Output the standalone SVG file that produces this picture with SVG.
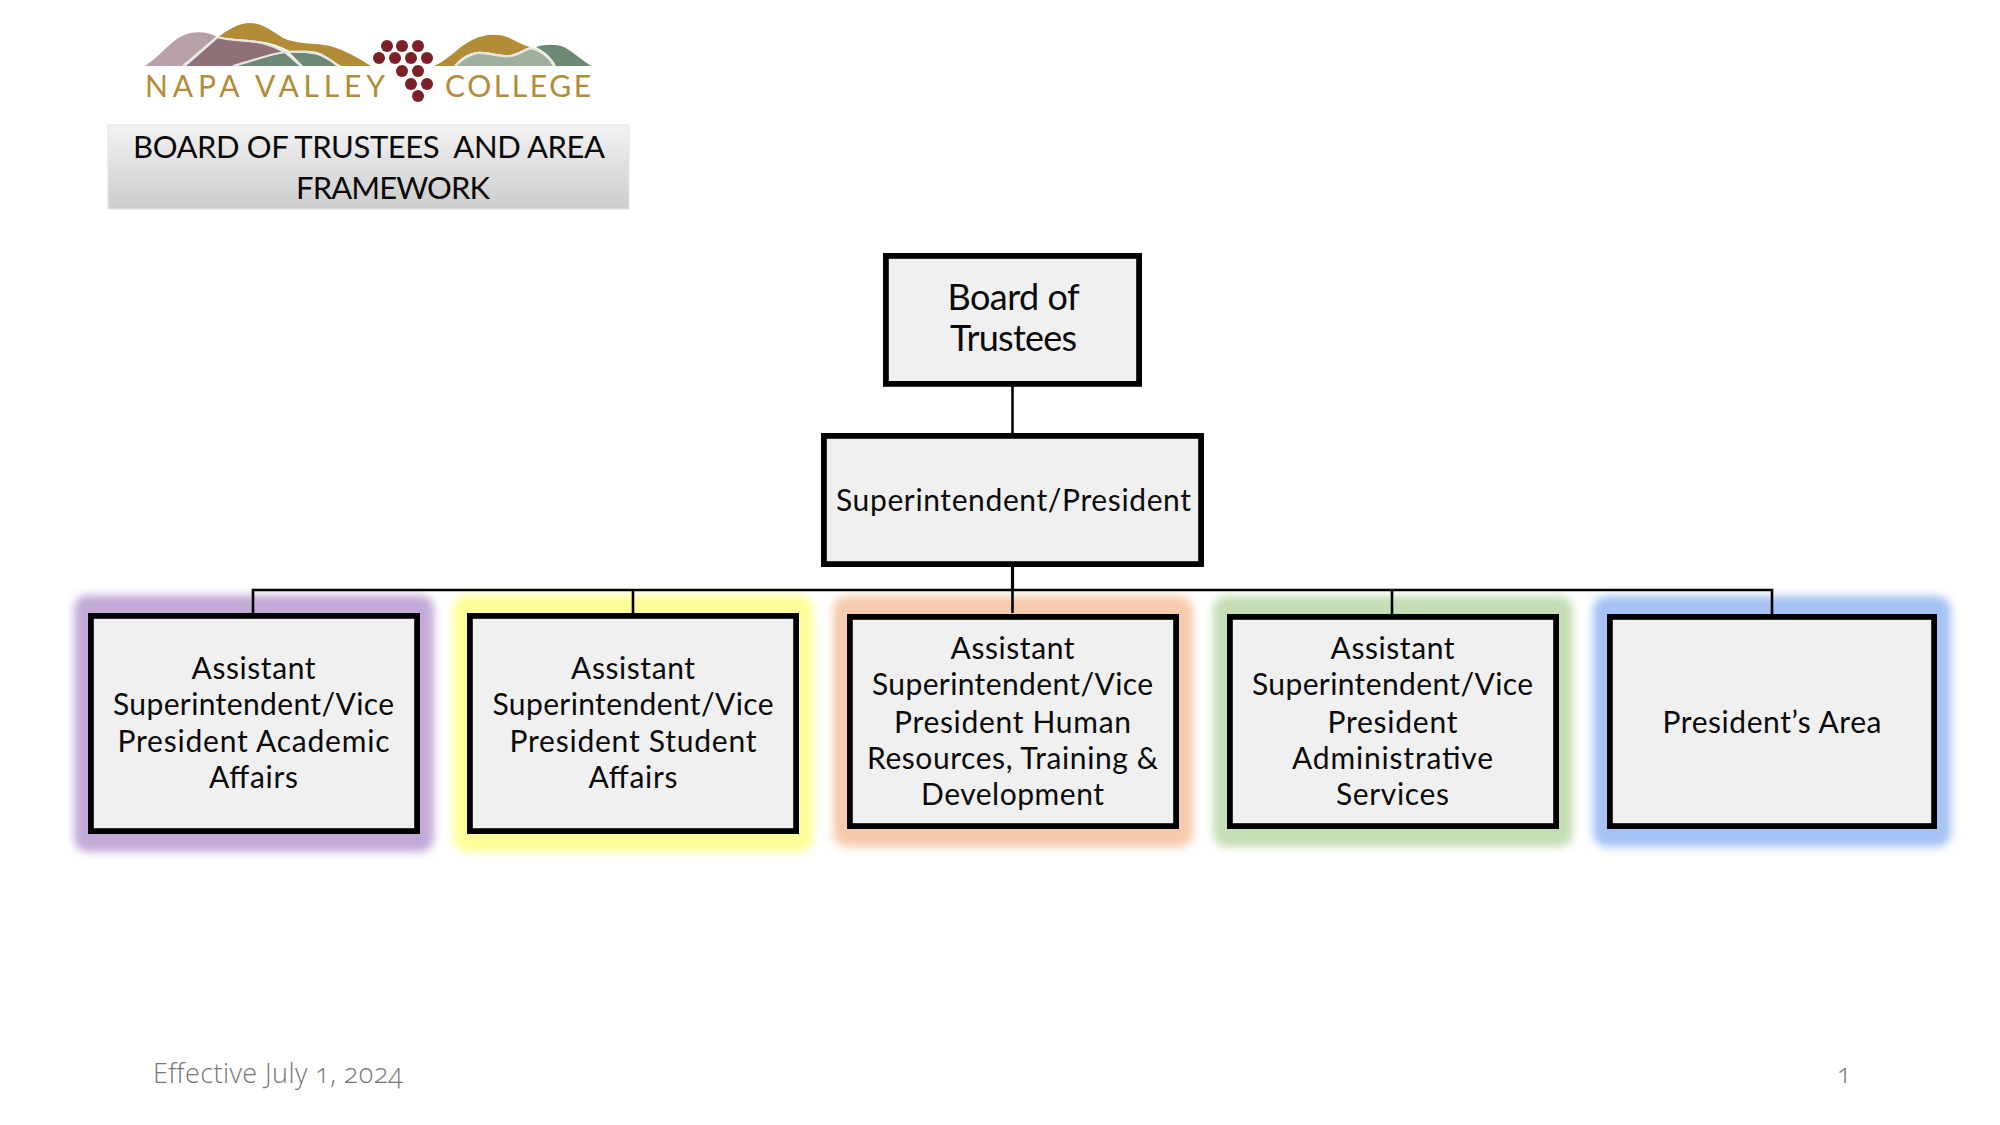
<svg xmlns="http://www.w3.org/2000/svg" width="2000" height="1125" viewBox="0 0 2000 1125">
<style>
text{font-family:"Lato","Noto Sans","Liberation Sans",sans-serif;fill:#0a0a0a;text-anchor:middle}
.n{font-size:30px}
.b{font-size:36px}
.t{font-size:31px}
.f{font-size:27px;fill:#777;font-family:"Open Sans","Lato",sans-serif;font-weight:300;font-feature-settings:"onum" 1;text-anchor:start}
.l{font-size:30px;fill:#b28c36;text-anchor:start}
.box{fill:#f0f0f0;stroke:#000;stroke-width:5.8}
.c{fill:none;stroke:#000;stroke-width:2.6}
.g{filter:url(#glow)}
.gr{fill:#7a2026}
.ln{fill:none;stroke:#e8e6e0;stroke-width:2.2}
</style>
<defs>
<filter id="glow" x="-15%" y="-15%" width="130%" height="130%"><feGaussianBlur stdDeviation="4.5"/></filter>
<linearGradient id="tg" x1="0" y1="0" x2="0" y2="1"><stop offset="0" stop-color="#f3f3f3"/><stop offset="1" stop-color="#cdcccd"/></linearGradient>
</defs>
<rect width="2000" height="1125" fill="#fff"/>
<g id="logo">
<path fill="#b8a0a8" d="M145 66C160 56 170 42 182 36C196 30 208 32 217 37L183 66Z"/>
<path fill="#8e7076" d="M186 66L218 38C232 41 240 40 257 43C270 45 276 48 285 52C268 54 252 60 233 66Z"/>
<path fill="#6d8976" d="M236 66C255 60 270 55 285 53L300 66Z"/>
<path fill="#6d8976" d="M290 53C300 52 310 53 318 55C325 58 332 62 338 66H303Z"/>
<path fill="#b28c36" d="M218 37C228 30 238 23 250 23C262 23 272 31 283 38C295 44 315 43 330 46C345 50 358 58 371 66H341C332 60 325 55 317 52C308 50 298 51 290 51C280 46 270 42 257 41C242 39 230 39 218 37Z"/>
<path fill="#b28c36" d="M434 66C448 60 458 47 472 40C482 35 495 33 507 37C515 40 522 45 530 47C522 50 518 53 510 55C500 56 488 51 477 52C468 53 460 58 455 66Z"/>
<path fill="#a0b09e" d="M457 66C462 60 469 56 477 54C488 53 500 58 510 57C518 56 524 51 531 49C540 51 548 57 553 66Z"/>
<path fill="#6d8976" d="M536 47C545 44 556 44 564 47C573 52 582 60 591 66H556C552 58 546 52 536 47Z"/>
<path class="ln" d="M183 66L217 37M233 66C255 60 270 54 285 52C296 51 308 52 317 53C326 56 333 62 338 66M285 52L301 66M218 37C232 41 245 40 257 42C270 44 276 48 285 52"/>
<path class="ln" d="M455 66C461 59 469 54 477 53C488 52 500 57 510 56C518 55 524 50 531 48C540 50 549 57 555 66"/>
<g class="gr"><circle cx="387" cy="46" r="6"/><circle cx="402" cy="46" r="6"/><circle cx="418" cy="46" r="6"/><circle cx="379" cy="58" r="6"/><circle cx="395" cy="58" r="6"/><circle cx="411" cy="58" r="6"/><circle cx="427" cy="58" r="6"/><circle cx="402" cy="71" r="6"/><circle cx="418" cy="71" r="6"/><circle cx="411" cy="84" r="6"/><circle cx="427" cy="84" r="6"/><circle cx="418" cy="96" r="6"/></g>
<text class="l" x="145" y="97" textLength="240" lengthAdjust="spacing">NAPA VALLEY</text>
<text class="l" x="445" y="97" textLength="146" lengthAdjust="spacing">COLLEGE</text>
</g>
<g id="title">
<rect x="108" y="125" width="521" height="84" fill="url(#tg)" stroke="#e4e4e4" stroke-width="1"/>
<text class="t" x="369" y="158" textLength="472" lengthAdjust="spacing" xml:space="preserve">BOARD OF TRUSTEES  AND AREA</text>
<text class="t" x="393" y="199" textLength="194" lengthAdjust="spacing">FRAMEWORK</text>
</g>
<g id="glows">
<rect class="g" x="74" y="595" width="360" height="257" rx="14" fill="#c3aad8"/>
<rect class="g" x="453" y="595" width="360" height="257" rx="14" fill="#ffff99"/>
<rect class="g" x="833" y="596" width="360" height="251" rx="14" fill="#f6caac"/>
<rect class="g" x="1213" y="596" width="360" height="251" rx="14" fill="#c5deb5"/>
<rect class="g" x="1593" y="596" width="358" height="251" rx="14" fill="#a4c2f4"/>
</g>
<g id="connectors">
<path class="c" d="M1012.5 386V433M1012.5 567V613M253 613V590H1772V614M633 590V613M1392 590V614"/>
<path class="c" d="M1012.5 567V590" style="stroke-width:3.2"/>
</g>
<g id="board"><rect class="box" x="885.9" y="255.9" width="253.2" height="128"/>
<text class="b" x="1013.5" y="310" textLength="132" lengthAdjust="spacing">Board of</text><text class="b" x="1013.5" y="351" textLength="127" lengthAdjust="spacing">Trustees</text></g>
<g id="president"><rect class="box" x="823.9" y="435.9" width="377.2" height="128.2"/>
<text class="n" x="1013.5" y="511" textLength="355" lengthAdjust="spacing">Superintendent/President</text></g>
<g id="academic"><rect class="box" x="90.9" y="615.9" width="326.2" height="215.2"/>
<text class="n" x="253.5" y="679" textLength="124" lengthAdjust="spacing">Assistant</text>
<text class="n" x="253.5" y="715" textLength="281" lengthAdjust="spacing">Superintendent/Vice</text>
<text class="n" x="253.5" y="752" textLength="272" lengthAdjust="spacing">President Academic</text>
<text class="n" x="253.5" y="788" textLength="89" lengthAdjust="spacing">Affairs</text></g>
<g id="student"><rect class="box" x="469.9" y="615.9" width="326.2" height="215.2"/>
<text class="n" x="633" y="679" textLength="124" lengthAdjust="spacing">Assistant</text>
<text class="n" x="633" y="715" textLength="281" lengthAdjust="spacing">Superintendent/Vice</text>
<text class="n" x="633" y="752" textLength="247" lengthAdjust="spacing">President Student</text>
<text class="n" x="633" y="788" textLength="89" lengthAdjust="spacing">Affairs</text></g>
<g id="hr"><rect class="box" x="849.9" y="616.9" width="326.2" height="209.2"/>
<text class="n" x="1012.5" y="659" textLength="124" lengthAdjust="spacing">Assistant</text>
<text class="n" x="1012.5" y="695" textLength="281" lengthAdjust="spacing">Superintendent/Vice</text>
<text class="n" x="1012.5" y="733" textLength="237" lengthAdjust="spacing">President Human</text>
<text class="n" x="1012.5" y="769" textLength="291" lengthAdjust="spacing">Resources, Training &amp;</text>
<text class="n" x="1012.5" y="805" textLength="183" lengthAdjust="spacing">Development</text></g>
<g id="admin"><rect class="box" x="1229.9" y="616.9" width="326.2" height="209.2"/>
<text class="n" x="1392.5" y="659" textLength="124" lengthAdjust="spacing">Assistant</text>
<text class="n" x="1392.5" y="695" textLength="281" lengthAdjust="spacing">Superintendent/Vice</text>
<text class="n" x="1392.5" y="733" textLength="130" lengthAdjust="spacing">President</text>
<text class="n" x="1392.5" y="769" textLength="201" lengthAdjust="spacing">Administrative</text>
<text class="n" x="1392.5" y="805" textLength="113" lengthAdjust="spacing">Services</text></g>
<g id="area"><rect class="box" x="1609.9" y="616.9" width="324.2" height="209.2"/>
<text class="n" x="1772" y="733" textLength="219" lengthAdjust="spacing">President’s Area</text></g>
<text class="f" x="153" y="1083" textLength="250" lengthAdjust="spacing">Effective July 1, 2024</text>
<text class="f" x="1837" y="1083">1</text>
</svg>
